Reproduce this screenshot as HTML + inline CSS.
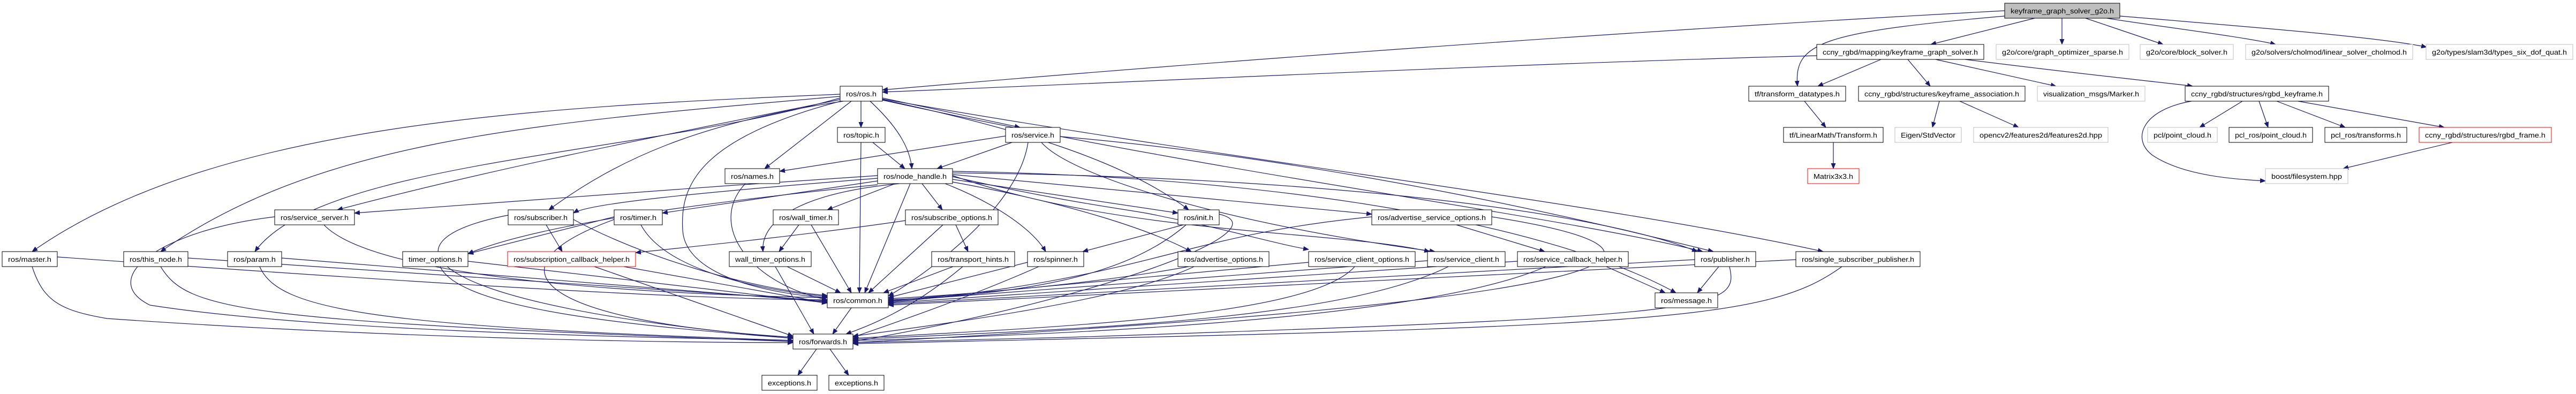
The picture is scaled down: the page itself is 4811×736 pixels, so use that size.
<!DOCTYPE html>
<html><head><meta charset="utf-8"><style>
html,body{margin:0;padding:0;background:#fff;}
svg{display:block;}
text{font-family:"Liberation Sans",sans-serif;font-size:13px;fill:#000;}
#edges path{fill:none;stroke:#191970;stroke-width:1.2;}
</style></head><body>
<svg xmlns="http://www.w3.org/2000/svg" width="4811" height="736" viewBox="0 0 4811 736">
<defs><marker id="a" markerWidth="11" markerHeight="9" refX="10" refY="4.5" orient="auto" markerUnits="userSpaceOnUse"><path d="M0,0 L11,4.5 L0,9z" fill="#191970"/></marker></defs>
<rect width="4811" height="736" fill="#fff"/>
<g id="edges" marker-end="url(#a)">
<path marker-end="url(#a)" d="M3744,20 C3000,60 2200,120 1648,168"/>
<path marker-end="url(#a)" d="M3744,30 C3400,60 3350,80 3357,161"/>
<path marker-end="url(#a)" d="M3800,34 L3606,83"/>
<path marker-end="url(#a)" d="M3851,34 L3851,83"/>
<path marker-end="url(#a)" d="M3895,34 L4040,83"/>
<path marker-end="url(#a)" d="M3935,34 C4000,45 4200,70 4250,83"/>
<path marker-end="url(#a)" d="M3959,30 C4200,50 4450,70 4532,88"/>
<path marker-end="url(#a)" d="M3393,104 C2800,120 2200,150 1648,172"/>
<path marker-end="url(#a)" d="M3513,111 L3395,161"/>
<path marker-end="url(#a)" d="M3563,111 L3605,161"/>
<path marker-end="url(#a)" d="M3615,111 L3840,161"/>
<path marker-end="url(#a)" d="M3670,111 C3900,140 4050,155 4095,161"/>
<path marker-end="url(#a)" d="M3370,189 L3410,238"/>
<path marker-end="url(#a)" d="M3424,266 L3424,315"/>
<path marker-end="url(#a)" d="M3622,189 L3609,238"/>
<path marker-end="url(#a)" d="M3660,189 L3770,238"/>
<path marker-end="url(#a)" d="M4188,189 L4108,238"/>
<path marker-end="url(#a)" d="M4219,189 L4236,238"/>
<path marker-end="url(#a)" d="M4252,189 L4380,238"/>
<path marker-end="url(#a)" d="M4292,189 L4565,238"/>
<path marker-end="url(#a)" d="M4093,189 C4000,205 3980,260 4020,290 C4080,330 4180,335 4231,338"/>
<path marker-end="url(#a)" d="M4580,266 L4376,315"/>
<path marker-end="url(#a)" d="M1569,176 C1000,200 400,230 60,470"/>
<path marker-end="url(#a)" d="M1569,180 C1000,230 600,260 300,470"/>
<path marker-end="url(#a)" d="M1569,183 C1200,290 600,300 476,470"/>
<path marker-end="url(#a)" d="M1569,186 C1200,260 900,320 630,392"/>
<path marker-end="url(#a)" d="M1575,189 C1300,230 1150,300 1025,392"/>
<path marker-end="url(#a)" d="M1590,189 L1428,315"/>
<path marker-end="url(#a)" d="M1570,189 C1300,260 1270,350 1275,430 C1280,520 1450,550 1545,556"/>
<path marker-end="url(#a)" d="M1608,189 L1608,238"/>
<path marker-end="url(#a)" d="M1625,189 C1680,240 1700,280 1703,315"/>
<path marker-end="url(#a)" d="M1648,183 L1905,238"/>
<path marker-end="url(#a)" d="M1648,186 C1900,240 2100,300 2220,392"/>
<path marker-end="url(#a)" d="M1648,187 C2300,330 2900,400 3180,470"/>
<path marker-end="url(#a)" d="M1648,185 C2300,300 3000,380 3405,470"/>
<path marker-end="url(#a)" d="M1608,266 L1605,547"/>
<path marker-end="url(#a)" d="M1630,266 L1690,315"/>
<path marker-end="url(#a)" d="M1878,254 L1456,320"/>
<path marker-end="url(#a)" d="M1890,266 L1750,315"/>
<path marker-end="url(#a)" d="M1945,266 C2000,330 2300,420 2680,470"/>
<path marker-end="url(#a)" d="M1920,266 C1900,400 1700,530 1659,553"/>
<path marker-end="url(#a)" d="M1980,255 C2500,300 3000,420 3200,470"/>
<path marker-end="url(#a)" d="M1392,343 C1320,420 1400,530 1545,560"/>
<path marker-end="url(#a)" d="M1639,328 C1300,350 900,380 662,398"/>
<path marker-end="url(#a)" d="M1639,333 C1300,360 1100,380 1071,398"/>
<path marker-end="url(#a)" d="M1639,338 L1237,398"/>
<path marker-end="url(#a)" d="M1672,343 L1545,392"/>
<path marker-end="url(#a)" d="M1722,343 L1760,392"/>
<path marker-end="url(#a)" d="M1765,343 C1860,380 1930,430 1953,470"/>
<path marker-end="url(#a)" d="M1779,335 L2200,398"/>
<path marker-end="url(#a)" d="M1779,326 L2562,400"/>
<path marker-end="url(#a)" d="M1779,340 C2000,380 2150,430 2225,470"/>
<path marker-end="url(#a)" d="M1779,330 C2000,380 2100,390 2150,400 C2300,430 2380,455 2444,466"/>
<path marker-end="url(#a)" d="M1779,328 C2100,440 2500,430 2670,470"/>
<path marker-end="url(#a)" d="M1779,323 C2500,330 3000,400 3170,470"/>
<path marker-end="url(#a)" d="M1700,343 L1615,547"/>
<path marker-end="url(#a)" d="M1680,343 C1500,360 1420,410 1425,470"/>
<path marker-end="url(#a)" d="M1639,345 C1300,380 1000,420 874,474"/>
<path marker-end="url(#a)" d="M1691,412 C1500,440 1300,460 1187,472"/>
<path marker-end="url(#a)" d="M1779,320 C2400,330 2900,420 3130,547"/>
<path marker-end="url(#a)" d="M1020,420 L1050,470"/>
<path marker-end="url(#a)" d="M1071,410 C1200,480 1400,540 1545,552"/>
<path marker-end="url(#a)" d="M949,402 C700,450 770,570 1481,632"/>
<path marker-end="url(#a)" d="M605,420 C700,520 1200,550 1545,556"/>
<path marker-end="url(#a)" d="M513,405 C300,430 180,520 280,570 C600,620 1200,630 1481,636"/>
<path marker-end="url(#a)" d="M1147,405 L874,474"/>
<path marker-end="url(#a)" d="M1197,420 C1240,500 1400,540 1545,554"/>
<path marker-end="url(#a)" d="M1147,410 C900,500 1000,600 1481,630"/>
<path marker-end="url(#a)" d="M1492,420 L1455,470"/>
<path marker-end="url(#a)" d="M1515,420 L1590,547"/>
<path marker-end="url(#a)" d="M1448,498 L1520,624"/>
<path marker-end="url(#a)" d="M1470,498 L1570,547"/>
<path marker-end="url(#a)" d="M1785,420 L1808,470"/>
<path marker-end="url(#a)" d="M1761,420 L1622,547"/>
<path marker-end="url(#a)" d="M1780,498 L1650,547"/>
<path marker-end="url(#a)" d="M1798,498 C1700,580 1620,610 1580,624"/>
<path marker-end="url(#a)" d="M1919,490 L1659,556"/>
<path marker-end="url(#a)" d="M1940,498 C1800,560 1650,610 1593,630"/>
<path marker-end="url(#a)" d="M2210,420 L2022,470"/>
<path marker-end="url(#a)" d="M2215,420 C2100,520 1900,550 1659,560"/>
<path marker-end="url(#a)" d="M2277,400 C2400,430 2050,560 1593,638"/>
<path marker-end="url(#a)" d="M2720,420 L2885,470"/>
<path marker-end="url(#a)" d="M2562,405 C2200,440 2150,520 1659,565"/>
<path marker-end="url(#a)" d="M2786,405 C3200,470 3100,560 1593,640"/>
<path marker-end="url(#a)" d="M2220,498 C2100,520 1900,545 1659,558"/>
<path marker-end="url(#a)" d="M2230,498 C2100,560 1800,600 1593,628"/>
<path marker-end="url(#a)" d="M2444,490 L1659,562"/>
<path marker-end="url(#a)" d="M2530,498 C2450,590 2000,610 1593,632"/>
<path marker-end="url(#a)" d="M2666,487 L1659,563"/>
<path marker-end="url(#a)" d="M2705,498 C2500,600 2000,615 1593,634"/>
<path marker-end="url(#a)" d="M2834,488 L1659,566"/>
<path marker-end="url(#a)" d="M2887,498 C2700,580 2200,620 1593,636"/>
<path marker-end="url(#a)" d="M3000,498 L3110,547"/>
<path marker-end="url(#a)" d="M3210,498 L3170,547"/>
<path marker-end="url(#a)" d="M3165,485 L1659,568"/>
<path marker-end="url(#a)" d="M3230,498 C3250,580 3200,590 2000,630 L1593,640"/>
<path marker-end="url(#a)" d="M3354,485 L1659,570"/>
<path marker-end="url(#a)" d="M3440,498 C3300,600 3100,610 1593,642"/>
<path marker-end="url(#a)" d="M107,480 C800,530 1300,560 1545,560"/>
<path marker-end="url(#a)" d="M60,498 C80,560 110,580 200,595 C700,630 1200,640 1481,640"/>
<path marker-end="url(#a)" d="M351,482 L1545,562"/>
<path marker-end="url(#a)" d="M300,498 C350,580 450,600 1481,638"/>
<path marker-end="url(#a)" d="M526,482 L1545,564"/>
<path marker-end="url(#a)" d="M485,498 C520,580 700,610 1481,636"/>
<path marker-end="url(#a)" d="M874,488 L1545,566"/>
<path marker-end="url(#a)" d="M822,498 C860,580 1200,610 1481,632"/>
<path marker-end="url(#a)" d="M1165,498 L1545,566"/>
<path marker-end="url(#a)" d="M1110,498 L1481,628"/>
<path marker-end="url(#a)" d="M1590,575 L1555,624"/>
<path marker-end="url(#a)" d="M1525,652 L1490,701"/>
<path marker-end="url(#a)" d="M1550,652 L1585,701"/>
</g>
<g id="nodes" text-rendering="geometricPrecision">
<rect x="3744" y="6" width="215" height="28" fill="#bfbfbf" stroke="#000"/><text x="3755" y="25" textLength="193" lengthAdjust="spacingAndGlyphs">keyframe_graph_solver_g2o.h</text>
<rect x="3393" y="83" width="312" height="28" fill="#fff" stroke="#000"/><text x="3404" y="102" textLength="290" lengthAdjust="spacingAndGlyphs">ccny_rgbd/mapping/keyframe_graph_solver.h</text>
<rect x="3728" y="83" width="248" height="28" fill="#fff" stroke="#bfbfbf"/><text x="3739" y="102" textLength="226" lengthAdjust="spacingAndGlyphs">g2o/core/graph_optimizer_sparse.h</text>
<rect x="3997" y="83" width="174" height="28" fill="#fff" stroke="#bfbfbf"/><text x="4008" y="102" textLength="152" lengthAdjust="spacingAndGlyphs">g2o/core/block_solver.h</text>
<rect x="4194" y="83" width="312" height="28" fill="#fff" stroke="#bfbfbf"/><text x="4205" y="102" textLength="290" lengthAdjust="spacingAndGlyphs">g2o/solvers/cholmod/linear_solver_cholmod.h</text>
<rect x="4531" y="83" width="274" height="28" fill="#fff" stroke="#bfbfbf"/><text x="4542" y="102" textLength="252" lengthAdjust="spacingAndGlyphs">g2o/types/slam3d/types_six_dof_quat.h</text>
<rect x="1569" y="161" width="79" height="28" fill="#fff" stroke="#000"/><text x="1580" y="180" textLength="57" lengthAdjust="spacingAndGlyphs">ros/ros.h</text>
<rect x="3266" y="161" width="181" height="28" fill="#fff" stroke="#000"/><text x="3277" y="180" textLength="159" lengthAdjust="spacingAndGlyphs">tf/transform_datatypes.h</text>
<rect x="3471" y="161" width="311" height="28" fill="#fff" stroke="#000"/><text x="3482" y="180" textLength="289" lengthAdjust="spacingAndGlyphs">ccny_rgbd/structures/keyframe_association.h</text>
<rect x="3805" y="161" width="201" height="28" fill="#fff" stroke="#bfbfbf"/><text x="3816" y="180" textLength="179" lengthAdjust="spacingAndGlyphs">visualization_msgs/Marker.h</text>
<rect x="4081" y="161" width="268" height="28" fill="#fff" stroke="#000"/><text x="4092" y="180" textLength="246" lengthAdjust="spacingAndGlyphs">ccny_rgbd/structures/rgbd_keyframe.h</text>
<rect x="1564" y="238" width="89" height="28" fill="#fff" stroke="#000"/><text x="1575" y="257" textLength="67" lengthAdjust="spacingAndGlyphs">ros/topic.h</text>
<rect x="1878" y="238" width="102" height="28" fill="#fff" stroke="#000"/><text x="1889" y="257" textLength="80" lengthAdjust="spacingAndGlyphs">ros/service.h</text>
<rect x="3331" y="238" width="186" height="28" fill="#fff" stroke="#000"/><text x="3342" y="257" textLength="164" lengthAdjust="spacingAndGlyphs">tf/LinearMath/Transform.h</text>
<rect x="3539" y="238" width="124" height="28" fill="#fff" stroke="#bfbfbf"/><text x="3550" y="257" textLength="102" lengthAdjust="spacingAndGlyphs">Eigen/StdVector</text>
<rect x="3686" y="238" width="251" height="28" fill="#fff" stroke="#bfbfbf"/><text x="3697" y="257" textLength="229" lengthAdjust="spacingAndGlyphs">opencv2/features2d/features2d.hpp</text>
<rect x="4011" y="238" width="130" height="28" fill="#fff" stroke="#bfbfbf"/><text x="4022" y="257" textLength="108" lengthAdjust="spacingAndGlyphs">pcl/point_cloud.h</text>
<rect x="4163" y="238" width="156" height="28" fill="#fff" stroke="#000"/><text x="4174" y="257" textLength="134" lengthAdjust="spacingAndGlyphs">pcl_ros/point_cloud.h</text>
<rect x="4342" y="238" width="153" height="28" fill="#fff" stroke="#000"/><text x="4353" y="257" textLength="131" lengthAdjust="spacingAndGlyphs">pcl_ros/transforms.h</text>
<rect x="4518" y="238" width="247" height="28" fill="#fff" stroke="#ff0000"/><text x="4529" y="257" textLength="225" lengthAdjust="spacingAndGlyphs">ccny_rgbd/structures/rgbd_frame.h</text>
<rect x="1354" y="315" width="102" height="28" fill="#fff" stroke="#000"/><text x="1365" y="334" textLength="80" lengthAdjust="spacingAndGlyphs">ros/names.h</text>
<rect x="1639" y="315" width="140" height="28" fill="#fff" stroke="#000"/><text x="1650" y="334" textLength="118" lengthAdjust="spacingAndGlyphs">ros/node_handle.h</text>
<rect x="3376" y="315" width="96" height="28" fill="#fff" stroke="#ff0000"/><text x="3387" y="334" textLength="74" lengthAdjust="spacingAndGlyphs">Matrix3x3.h</text>
<rect x="4231" y="315" width="154" height="28" fill="#fff" stroke="#bfbfbf"/><text x="4242" y="334" textLength="132" lengthAdjust="spacingAndGlyphs">boost/filesystem.hpp</text>
<rect x="513" y="392" width="149" height="28" fill="#fff" stroke="#000"/><text x="524" y="411" textLength="127" lengthAdjust="spacingAndGlyphs">ros/service_server.h</text>
<rect x="949" y="392" width="122" height="28" fill="#fff" stroke="#000"/><text x="960" y="411" textLength="100" lengthAdjust="spacingAndGlyphs">ros/subscriber.h</text>
<rect x="1147" y="392" width="90" height="28" fill="#fff" stroke="#000"/><text x="1158" y="411" textLength="68" lengthAdjust="spacingAndGlyphs">ros/timer.h</text>
<rect x="1444" y="392" width="122" height="28" fill="#fff" stroke="#000"/><text x="1455" y="411" textLength="100" lengthAdjust="spacingAndGlyphs">ros/wall_timer.h</text>
<rect x="1691" y="392" width="173" height="28" fill="#fff" stroke="#000"/><text x="1702" y="411" textLength="151" lengthAdjust="spacingAndGlyphs">ros/subscribe_options.h</text>
<rect x="2200" y="392" width="77" height="28" fill="#fff" stroke="#000"/><text x="2211" y="411" textLength="55" lengthAdjust="spacingAndGlyphs">ros/init.h</text>
<rect x="2562" y="392" width="224" height="28" fill="#fff" stroke="#000"/><text x="2573" y="411" textLength="202" lengthAdjust="spacingAndGlyphs">ros/advertise_service_options.h</text>
<rect x="4" y="470" width="103" height="28" fill="#fff" stroke="#000"/><text x="15" y="489" textLength="81" lengthAdjust="spacingAndGlyphs">ros/master.h</text>
<rect x="231" y="470" width="120" height="28" fill="#fff" stroke="#000"/><text x="242" y="489" textLength="98" lengthAdjust="spacingAndGlyphs">ros/this_node.h</text>
<rect x="425" y="470" width="101" height="28" fill="#fff" stroke="#000"/><text x="436" y="489" textLength="79" lengthAdjust="spacingAndGlyphs">ros/param.h</text>
<rect x="752" y="470" width="122" height="28" fill="#fff" stroke="#000"/><text x="763" y="489" textLength="100" lengthAdjust="spacingAndGlyphs">timer_options.h</text>
<rect x="948" y="470" width="239" height="28" fill="#fff" stroke="#ff0000"/><text x="959" y="489" textLength="217" lengthAdjust="spacingAndGlyphs">ros/subscription_callback_helper.h</text>
<rect x="1362" y="470" width="153" height="28" fill="#fff" stroke="#000"/><text x="1373" y="489" textLength="131" lengthAdjust="spacingAndGlyphs">wall_timer_options.h</text>
<rect x="1740" y="470" width="155" height="28" fill="#fff" stroke="#000"/><text x="1751" y="489" textLength="133" lengthAdjust="spacingAndGlyphs">ros/transport_hints.h</text>
<rect x="1919" y="470" width="105" height="28" fill="#fff" stroke="#000"/><text x="1930" y="489" textLength="83" lengthAdjust="spacingAndGlyphs">ros/spinner.h</text>
<rect x="2200" y="470" width="170" height="28" fill="#fff" stroke="#000"/><text x="2211" y="489" textLength="148" lengthAdjust="spacingAndGlyphs">ros/advertise_options.h</text>
<rect x="2444" y="470" width="199" height="28" fill="#fff" stroke="#000"/><text x="2455" y="489" textLength="177" lengthAdjust="spacingAndGlyphs">ros/service_client_options.h</text>
<rect x="2666" y="470" width="145" height="28" fill="#fff" stroke="#000"/><text x="2677" y="489" textLength="123" lengthAdjust="spacingAndGlyphs">ros/service_client.h</text>
<rect x="2834" y="470" width="207" height="28" fill="#fff" stroke="#000"/><text x="2845" y="489" textLength="185" lengthAdjust="spacingAndGlyphs">ros/service_callback_helper.h</text>
<rect x="3165" y="470" width="114" height="28" fill="#fff" stroke="#000"/><text x="3176" y="489" textLength="92" lengthAdjust="spacingAndGlyphs">ros/publisher.h</text>
<rect x="3354" y="470" width="232" height="28" fill="#fff" stroke="#000"/><text x="3365" y="489" textLength="210" lengthAdjust="spacingAndGlyphs">ros/single_subscriber_publisher.h</text>
<rect x="1545" y="547" width="114" height="28" fill="#fff" stroke="#000"/><text x="1556" y="566" textLength="92" lengthAdjust="spacingAndGlyphs">ros/common.h</text>
<rect x="3091" y="547" width="117" height="28" fill="#fff" stroke="#000"/><text x="3102" y="566" textLength="95" lengthAdjust="spacingAndGlyphs">ros/message.h</text>
<rect x="1481" y="624" width="112" height="28" fill="#fff" stroke="#000"/><text x="1492" y="643" textLength="90" lengthAdjust="spacingAndGlyphs">ros/forwards.h</text>
<rect x="1423" y="701" width="103" height="28" fill="#fff" stroke="#000"/><text x="1434" y="720" textLength="81" lengthAdjust="spacingAndGlyphs">exceptions.h</text>
<rect x="1548" y="701" width="103" height="28" fill="#fff" stroke="#000"/><text x="1559" y="720" textLength="81" lengthAdjust="spacingAndGlyphs">exceptions.h</text>
</g>
</svg>
</body></html>
